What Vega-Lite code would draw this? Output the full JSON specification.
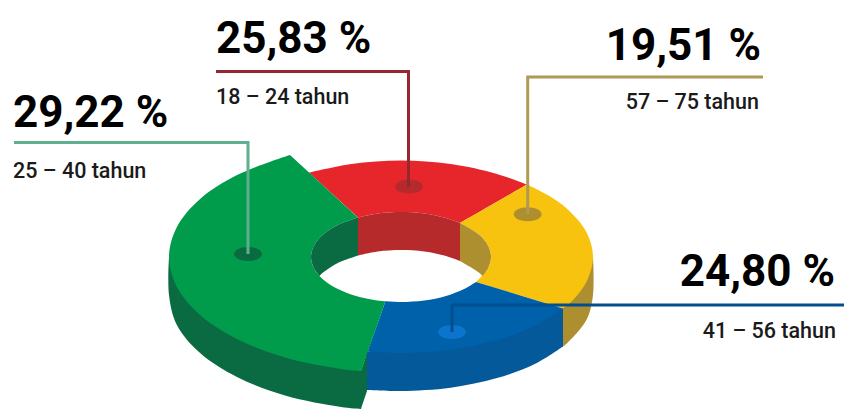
{"$schema":"https://vega.github.io/schema/vega-lite/v6.json","width":844,"height":410,"padding":0,"autosize":{"type":"none"},"background":"white","view":{"stroke":null},
"datasets":{
"faces":[
{"part":"blue-wall","i":1,"x":563,"y":308.5},{"part":"blue-wall","i":2,"x":366,"y":352},{"part":"blue-wall","i":3,"x":366,"y":352},{"part":"blue-wall","i":4,"x":366,"y":390},{"part":"blue-wall","i":5,"x":366,"y":390},{"part":"blue-wall","i":6,"x":401,"y":391},{"part":"blue-wall","i":7,"x":450.7,"y":387.7},{"part":"blue-wall","i":8,"x":497,"y":378.1},{"part":"blue-wall","i":9,"x":536.8,"y":362.9},{"part":"blue-wall","i":10,"x":563,"y":346.5},
{"part":"yellow-wall","i":1,"x":563,"y":308.5},{"part":"yellow-wall","i":2,"x":593,"y":257},{"part":"yellow-wall","i":3,"x":593,"y":257},{"part":"yellow-wall","i":4,"x":593,"y":295},{"part":"yellow-wall","i":5,"x":586.5,"y":319.8},{"part":"yellow-wall","i":6,"x":567.3,"y":343},{"part":"yellow-wall","i":7,"x":563,"y":346.5},
{"part":"green-wall","i":1,"x":367,"y":353},{"part":"green-wall","i":2,"x":361,"y":371},{"part":"green-wall","i":3,"x":361,"y":371},{"part":"green-wall","i":4,"x":169,"y":257},{"part":"green-wall","i":5,"x":169,"y":257},{"part":"green-wall","i":6,"x":169,"y":295},{"part":"green-wall","i":7,"x":176.9,"y":325},{"part":"green-wall","i":8,"x":200.1,"y":353},{"part":"green-wall","i":9,"x":237,"y":377},{"part":"green-wall","i":10,"x":285,"y":395.5},{"part":"green-wall","i":11,"x":341,"y":407},{"part":"green-wall","i":12,"x":361,"y":409},{"part":"green-wall","i":13,"x":361,"y":409},{"part":"green-wall","i":14,"x":367,"y":391},
{"part":"red-top","i":1,"x":309.1,"y":172.7},{"part":"red-top","i":2,"x":351.3,"y":164},{"part":"red-top","i":3,"x":401,"y":160.5},{"part":"red-top","i":4,"x":450.7,"y":164},{"part":"red-top","i":5,"x":497,"y":173.9},{"part":"red-top","i":6,"x":527,"y":184.5},{"part":"red-top","i":7,"x":527,"y":184.5},{"part":"red-top","i":8,"x":460,"y":223},{"part":"red-top","i":9,"x":460,"y":223},{"part":"red-top","i":10,"x":446,"y":218},{"part":"red-top","i":11,"x":424.3,"y":213.5},{"part":"red-top","i":12,"x":401,"y":212},{"part":"red-top","i":13,"x":377.7,"y":213.5},{"part":"red-top","i":14,"x":358,"y":217.5},
{"part":"yellow-top","i":1,"x":527,"y":184.5},{"part":"yellow-top","i":1.5,"x":548,"y":195.3},{"part":"yellow-top","i":2,"x":567.3,"y":209},{"part":"yellow-top","i":3,"x":586.5,"y":232.2},{"part":"yellow-top","i":4,"x":593,"y":257},{"part":"yellow-top","i":5,"x":586.5,"y":281.8},{"part":"yellow-top","i":5.5,"x":571.5,"y":301.6},{"part":"yellow-top","i":6,"x":563,"y":308.5},{"part":"yellow-top","i":7,"x":563,"y":308.5},{"part":"yellow-top","i":8,"x":476,"y":282},{"part":"yellow-top","i":9,"x":476,"y":282},{"part":"yellow-top","i":10,"x":487.9,"y":268.6},{"part":"yellow-top","i":11,"x":491,"y":257},{"part":"yellow-top","i":12,"x":487.9,"y":245.4},{"part":"yellow-top","i":13,"x":478.9,"y":234.5},{"part":"yellow-top","i":14,"x":460,"y":223},
{"part":"blue-top","i":1,"x":563,"y":308.5},{"part":"blue-top","i":2,"x":536.8,"y":324.9},{"part":"blue-top","i":3,"x":497,"y":340.1},{"part":"blue-top","i":4,"x":450.7,"y":349.7},{"part":"blue-top","i":5,"x":401,"y":353},{"part":"blue-top","i":6,"x":367.7,"y":351.5},{"part":"blue-top","i":7,"x":367.7,"y":351.5},{"part":"blue-top","i":8,"x":385.4,"y":301.3},{"part":"blue-top","i":9,"x":385.4,"y":301.3},{"part":"blue-top","i":10,"x":401,"y":302},{"part":"blue-top","i":11,"x":424.3,"y":300.5},{"part":"blue-top","i":12,"x":446,"y":296},{"part":"blue-top","i":13,"x":464.6,"y":288.8},{"part":"blue-top","i":14,"x":476,"y":282},
{"part":"green-top","i":1,"x":361,"y":371},{"part":"green-top","i":2,"x":341,"y":369},{"part":"green-top","i":3,"x":285,"y":357.5},{"part":"green-top","i":4,"x":237,"y":339},{"part":"green-top","i":5,"x":200.1,"y":315},{"part":"green-top","i":6,"x":176.9,"y":287},{"part":"green-top","i":7,"x":169,"y":257},{"part":"green-top","i":8,"x":176.9,"y":227},{"part":"green-top","i":9,"x":200.1,"y":199},{"part":"green-top","i":10,"x":237,"y":175},{"part":"green-top","i":11,"x":290,"y":155},{"part":"green-top","i":12,"x":290,"y":155},{"part":"green-top","i":13,"x":358,"y":217.5},{"part":"green-top","i":14,"x":358,"y":217.5},{"part":"green-top","i":15,"x":337.4,"y":225.2},{"part":"green-top","i":16,"x":323.1,"y":234.5},{"part":"green-top","i":17,"x":314.1,"y":245.4},{"part":"green-top","i":18,"x":311,"y":257},{"part":"green-top","i":19,"x":314.1,"y":268.6},{"part":"green-top","i":20,"x":323.1,"y":279.5},{"part":"green-top","i":21,"x":337.4,"y":288.8},{"part":"green-top","i":22,"x":356,"y":296},{"part":"green-top","i":23,"x":377.7,"y":300.5},{"part":"green-top","i":24,"x":385.4,"y":301.3},
{"part":"red-hole","i":1,"x":358,"y":217.5},{"part":"red-hole","i":2,"x":377.7,"y":213.5},{"part":"red-hole","i":3,"x":401,"y":212},{"part":"red-hole","i":4,"x":424.3,"y":213.5},{"part":"red-hole","i":5,"x":446,"y":218},{"part":"red-hole","i":6,"x":460,"y":223},{"part":"red-hole","i":7,"x":460,"y":223},{"part":"red-hole","i":8,"x":460,"y":261},{"part":"red-hole","i":9,"x":460,"y":261},{"part":"red-hole","i":10,"x":446,"y":256},{"part":"red-hole","i":11,"x":424.3,"y":251.5},{"part":"red-hole","i":12,"x":401,"y":250},{"part":"red-hole","i":13,"x":377.7,"y":251.5},{"part":"red-hole","i":14,"x":358,"y":255.5},
{"part":"green-hole","i":1,"x":358,"y":217.5},{"part":"green-hole","i":2,"x":337.4,"y":225.2},{"part":"green-hole","i":3,"x":323.1,"y":234.5},{"part":"green-hole","i":4,"x":314.1,"y":245.4},{"part":"green-hole","i":5,"x":311,"y":257},{"part":"green-hole","i":6,"x":314.1,"y":268.6},{"part":"green-hole","i":7,"x":319.4,"y":276},{"part":"green-hole","i":8,"x":319.4,"y":276},{"part":"green-hole","i":9,"x":323.1,"y":272.5},{"part":"green-hole","i":10,"x":337.4,"y":263.2},{"part":"green-hole","i":11,"x":358,"y":255.5},
{"part":"yellow-hole","i":1,"x":460,"y":223},{"part":"yellow-hole","i":2,"x":478.9,"y":234.5},{"part":"yellow-hole","i":3,"x":487.9,"y":245.4},{"part":"yellow-hole","i":4,"x":491,"y":257},{"part":"yellow-hole","i":5,"x":487.9,"y":268.6},{"part":"yellow-hole","i":6,"x":482.6,"y":276},{"part":"yellow-hole","i":7,"x":482.6,"y":276},{"part":"yellow-hole","i":8,"x":478.9,"y":272.5},{"part":"yellow-hole","i":9,"x":460,"y":261}
],
"dots":[
{"part":"green-dot","i":1,"x":262,"y":254},{"part":"green-dot","i":2,"x":257.9,"y":259},{"part":"green-dot","i":3,"x":248,"y":261},{"part":"green-dot","i":4,"x":238.1,"y":259},{"part":"green-dot","i":5,"x":234,"y":254},{"part":"green-dot","i":6,"x":238.1,"y":249},{"part":"green-dot","i":7,"x":248,"y":247},{"part":"green-dot","i":8,"x":257.9,"y":249},
{"part":"red-dot","i":1,"x":423,"y":186.5},{"part":"red-dot","i":2,"x":418.9,"y":191.5},{"part":"red-dot","i":3,"x":409,"y":193.5},{"part":"red-dot","i":4,"x":399.1,"y":191.5},{"part":"red-dot","i":5,"x":395,"y":186.5},{"part":"red-dot","i":6,"x":399.1,"y":181.5},{"part":"red-dot","i":7,"x":409,"y":179.5},{"part":"red-dot","i":8,"x":418.9,"y":181.5},
{"part":"yellow-dot","i":1,"x":541.7,"y":214.3},{"part":"yellow-dot","i":2,"x":537.6,"y":219.3},{"part":"yellow-dot","i":3,"x":527.7,"y":221.3},{"part":"yellow-dot","i":4,"x":517.8,"y":219.3},{"part":"yellow-dot","i":5,"x":513.7,"y":214.3},{"part":"yellow-dot","i":6,"x":517.8,"y":209.3},{"part":"yellow-dot","i":7,"x":527.7,"y":207.3},{"part":"yellow-dot","i":8,"x":537.6,"y":209.3},
{"part":"blue-dot","i":1,"x":466,"y":332},{"part":"blue-dot","i":2,"x":461.9,"y":337},{"part":"blue-dot","i":3,"x":452,"y":339},{"part":"blue-dot","i":4,"x":442.1,"y":337},{"part":"blue-dot","i":5,"x":438,"y":332},{"part":"blue-dot","i":6,"x":442.1,"y":327},{"part":"blue-dot","i":7,"x":452,"y":325},{"part":"blue-dot","i":8,"x":461.9,"y":327}
],
"leaders":[
{"part":"green-leader","i":1,"x":14,"y":142.5},{"part":"green-leader","i":2,"x":248,"y":142.5},{"part":"green-leader","i":3,"x":248,"y":254},
{"part":"red-leader","i":1,"x":216,"y":71.5},{"part":"red-leader","i":2,"x":408.5,"y":71.5},{"part":"red-leader","i":3,"x":408.5,"y":187},
{"part":"yellow-leader","i":1,"x":763,"y":77},{"part":"yellow-leader","i":2,"x":527.7,"y":77},{"part":"yellow-leader","i":3,"x":527.7,"y":214},
{"part":"blue-leader","i":1,"x":844,"y":305},{"part":"blue-leader","i":2,"x":452,"y":305},{"part":"blue-leader","i":3,"x":452,"y":332}
],
"bigLeft":[{"label":"25,83 %","x":216,"y":53},{"label":"29,22 %","x":13,"y":127}],
"bigRight":[{"label":"19,51 %","x":761,"y":60},{"label":"24,80 %","x":835,"y":286}],
"smallLeft":[{"label":"18 – 24 tahun","x":216,"y":104},{"label":"25 – 40 tahun","x":13,"y":178}],
"smallRight":[{"label":"57 – 75 tahun","x":759,"y":109},{"label":"41 – 56 tahun","x":836,"y":338}]
},
"encoding":{
"x":{"field":"x","type":"quantitative","axis":null,"scale":{"domain":[0,844],"nice":false,"zero":false}},
"y":{"field":"y","type":"quantitative","axis":null,"scale":{"domain":[410,0],"nice":false,"zero":false}}
},
"layer":[
{"data":{"name":"faces"},"mark":{"type":"line","interpolate":"catmull-rom","tension":0.5,"filled":true,"strokeWidth":0},"encoding":{"order":{"field":"i","type":"quantitative"},"color":{"field":"part","type":"nominal","legend":null,"scale":{"domain":["blue-wall","yellow-wall","green-wall","red-top","yellow-top","blue-top","green-top","red-hole","green-hole","yellow-hole","green-dot","red-dot","yellow-dot","blue-dot","green-leader","red-leader","yellow-leader","blue-leader"],"range":["#03599A","#AD8F30","#0A6A42","#E7262C","#F7C30E","#0061AB","#009C4C","#B62A2C","#0A6A42","#AD8F30","#0A6A42","#B62A2C","#AD8F30","#0A74CF","#5FAE8D","#94282F","#AF9A55","#034E8E"]}}}},
{"data":{"name":"dots"},"mark":{"type":"line","interpolate":"cardinal-closed","tension":0,"filled":true,"strokeWidth":0},"encoding":{"order":{"field":"i","type":"quantitative"},"color":{"field":"part","type":"nominal","legend":null}}},
{"data":{"name":"leaders"},"mark":{"type":"line","strokeWidth":3,"strokeJoin":"miter"},"encoding":{"order":{"field":"i","type":"quantitative"},"color":{"field":"part","type":"nominal","legend":null}}},
{"data":{"name":"bigLeft"},"mark":{"type":"text","align":"left","baseline":"alphabetic","font":"Roboto","fontWeight":"bold","fontSize":44,"color":"#000000"},"encoding":{"text":{"field":"label"}}},
{"data":{"name":"bigRight"},"mark":{"type":"text","align":"right","baseline":"alphabetic","font":"Roboto","fontWeight":"bold","fontSize":44,"color":"#000000"},"encoding":{"text":{"field":"label"}}},
{"data":{"name":"smallLeft"},"mark":{"type":"text","align":"left","baseline":"alphabetic","font":"Roboto","fontWeight":500,"fontSize":21.5,"color":"#1a1a1a"},"encoding":{"text":{"field":"label"}}},
{"data":{"name":"smallRight"},"mark":{"type":"text","align":"right","baseline":"alphabetic","font":"Roboto","fontWeight":500,"fontSize":21.5,"color":"#1a1a1a"},"encoding":{"text":{"field":"label"}}}
]}
